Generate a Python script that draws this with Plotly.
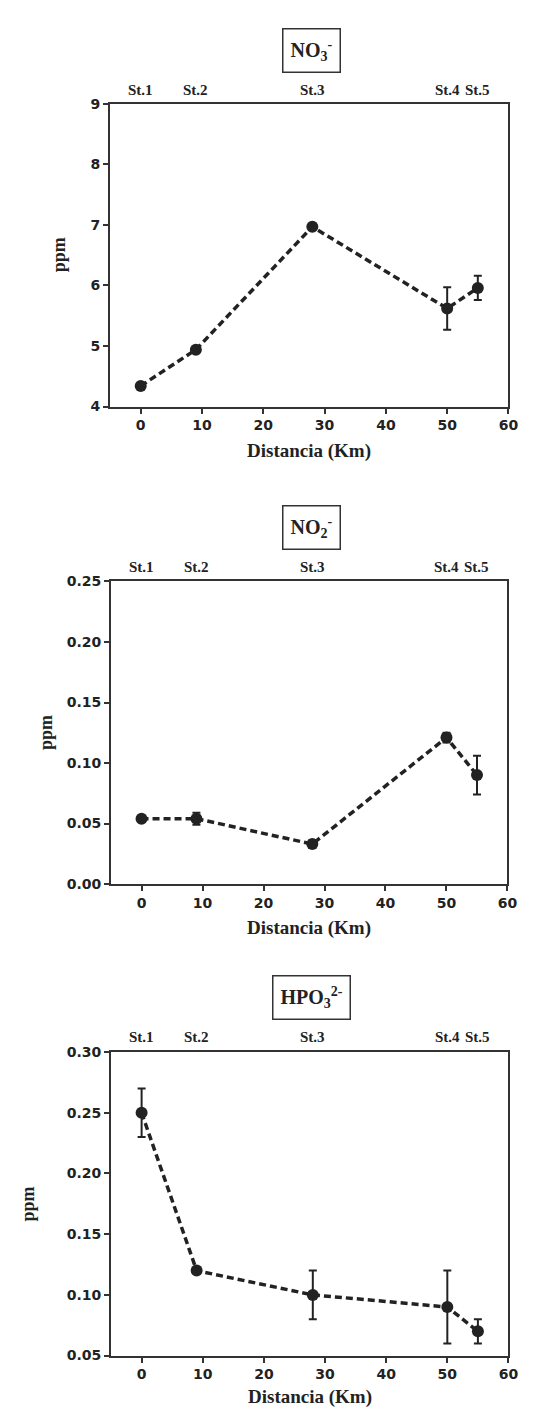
import plotly.graph_objects as go

# ---- data ----
dist_km = [0, 9, 28, 50, 55]
stations = ["St.1", "St.2", "St.3", "St.4", "St.5"]

no3 = [4.34, 4.94, 6.97, 5.62, 5.96]
no3_err = [0.03, 0.04, 0.03, 0.35, 0.20]

no2 = [0.054, 0.054, 0.033, 0.121, 0.090]
no2_err = [0.002, 0.005, 0.003, 0.004, 0.016]

hpo3 = [0.250, 0.120, 0.100, 0.090, 0.070]
hpo3_err = [0.020, 0.002, 0.020, 0.030, 0.010]

titles = ["NO<sub>3</sub><sup>-</sup>", "NO<sub>2</sub><sup>-</sup>", "HPO<sub>3</sub><sup>2-</sup>"]
y_ranges = [[4, 9], [0.0, 0.25], [0.05, 0.30]]
y_dticks = [1, 0.05, 0.05]
y_formats = ["d", ".2f", ".2f"]
x_range = [-5, 60]
x_ticks = [0, 10, 20, 30, 40, 50, 60]

W, H = 535, 1407
def fx(p): return p / W
def fy(p): return 1 - p / H

# layout geometry (pixels)
panels = [
    dict(vals=no3, err=no3_err, left=104, right=510, top=89, bottom=395,
         title_y=35, st_y=75, xt_y=440, yt_x=52),
    dict(vals=no2, err=no2_err, left=105, right=509, top=572, bottom=878,
         title_y=517, st_y=557, xt_y=922, yt_x=38),
    dict(vals=hpo3, err=hpo3_err, left=105, right=510, top=1048, bottom=1355,
         title_y=993, st_y=1033, xt_y=1397, yt_x=20),
]

INK = "#222222"
SERIF = "Liberation Serif, Times New Roman, serif"
SANS = "DejaVu Sans, Arial, sans-serif"

fig = go.Figure()
annotations = []
layout_axes = {}

for i, p in enumerate(panels):
    n = "" if i == 0 else str(i + 1)
    xa = "x" + n
    ya = "y" + n
    fig.add_trace(go.Scatter(
        x=dist_km, y=p["vals"], xaxis=xa, yaxis=ya, mode="lines+markers",
        line=dict(color=INK, width=3.5, dash="7px,4px"),
        marker=dict(color=INK, size=12, symbol="circle"),
        error_y=dict(type="data", array=p["err"], visible=True,
                     color=INK, thickness=2, width=4),
        showlegend=False,
    ))
    axis_common = dict(showline=True, linewidth=2, linecolor="#333333", mirror=True,
                       ticks="outside", ticklen=5, tickwidth=1.5, tickcolor="#333333",
                       showgrid=False, zeroline=False,
                       tickfont=dict(family=SANS, size=14, color=INK, weight="bold"))
    layout_axes["xaxis" + n] = dict(
        axis_common, domain=[fx(p["left"]), fx(p["right"])], range=x_range,
        tickvals=x_ticks, anchor=ya)
    layout_axes["yaxis" + n] = dict(
        axis_common, domain=[fy(p["bottom"]), fy(p["top"])], range=y_ranges[i],
        dtick=y_dticks[i], tick0=y_ranges[i][0], tickformat=y_formats[i], anchor=xa)

    cx = (p["left"] + p["right"]) / 2
    # boxed title
    annotations.append(dict(
        text="<b>" + titles[i] + "</b>", x=fx(cx + 2), y=fy(p["title_y"]),
        xref="paper", yref="paper", showarrow=False, xanchor="center", yanchor="middle",
        font=dict(family=SERIF, size=20, color=INK),
        bordercolor="#333333", borderwidth=1.5, borderpad=7, bgcolor="white"))
    # station labels
    for s, d in zip(stations, dist_km):
        annotations.append(dict(
            text="<b>" + s + "</b>", x=d, y=fy(p["st_y"]), xref=xa, yref="paper",
            showarrow=False, xanchor="center", yanchor="middle",
            font=dict(family=SERIF, size=15, color=INK)))
    # x title
    annotations.append(dict(
        text="<b>Distancia (Km)</b>", x=fx(cx), y=fy(p["xt_y"]), xref="paper", yref="paper",
        showarrow=False, xanchor="center", yanchor="middle",
        font=dict(family=SERIF, size=19, color=INK)))
    # y title
    annotations.append(dict(
        text="<b>ppm</b>", x=fx(p["yt_x"]), y=fy((p["top"] + p["bottom"]) / 2),
        xref="paper", yref="paper", showarrow=False, xanchor="center", yanchor="middle",
        textangle=-90, font=dict(family=SERIF, size=18, color=INK)))

fig.update_layout(
    width=W, height=H, margin=dict(l=0, r=0, t=0, b=0),
    paper_bgcolor="white", plot_bgcolor="white",
    annotations=annotations, **layout_axes)

fig.write_html("out.html")
